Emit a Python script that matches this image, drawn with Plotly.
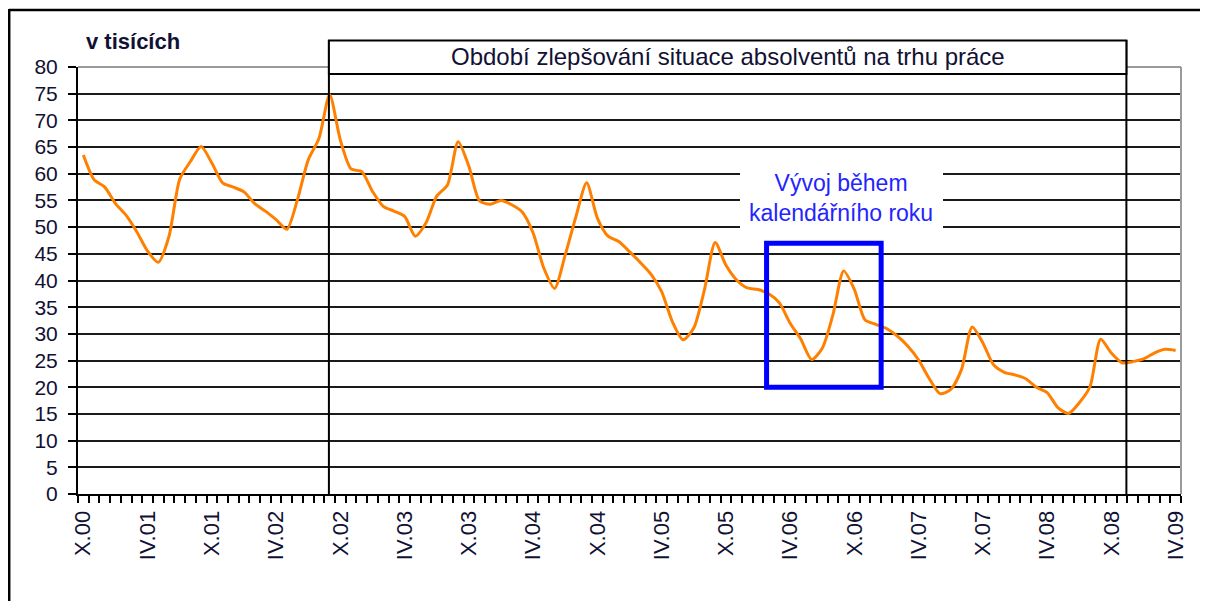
import plotly.graph_objects as go

# ---- data -------------------------------------------------------------
tick_labels = ["X.00", "IV.01", "X.01", "IV.02", "X.02", "IV.03", "X.03", "IV.04",
               "X.04", "IV.05", "X.05", "IV.06", "X.06", "IV.07", "X.07", "IV.08",
               "X.08", "IV.09"]
# monthly values X.2000 .. IV.2009 (thousands)
values = [63.5, 58.9, 57.5, 54.4, 52.2, 49.1, 45.5, 43.4, 48.3, 59.0,
          62.3, 65.1, 62.0, 58.3, 57.5, 56.6, 54.4, 53.0, 51.4, 49.6,
          55.2, 62.6, 66.6, 74.8, 66.3, 60.9, 60.4, 56.7, 53.9, 53.0,
          52.0, 48.3, 50.8, 55.8, 57.9, 66.0, 61.4, 54.9, 54.3, 55.0,
          54.2, 52.8, 48.9, 42.3, 38.5, 44.8, 52.0, 58.3, 51.7, 48.3,
          47.3, 45.4, 43.4, 41.2, 37.9, 32.3, 28.9, 31.1, 38.3, 47.1,
          42.9, 40.1, 38.6, 38.3, 37.5, 35.8, 32.0, 29.0, 25.2, 27.3,
          33.6, 41.8, 38.3, 32.6, 31.8, 31.0, 29.6, 27.7, 25.1, 21.6,
          18.8, 19.6, 23.3, 31.3, 28.3, 24.2, 22.8, 22.3, 21.6, 20.0,
          19.0, 16.2, 15.1, 17.1, 20.1, 29.0, 26.4, 24.6, 24.8, 25.3,
          26.4, 27.1, 26.9]
months = list(range(len(values)))
label_step = 6
y_ticks = list(range(0, 85, 5))

period_text = "Období zlepšování situace absolventů na trhu práce"
box_text = "Vývoj během<br>kalendářního roku"

# ---- layout helpers ---------------------------------------------------
OFF = 8                      # default page margin of the html body
W, H = 1208 - OFF, 601 - OFF
# plot area in page pixels (reference picture)
L, R, T, B = 78, 1181, 67, 494


def px(x):
    return (x - L) / (R - L)


def py(y):
    return (B - y) / (B - T)


FONT = "Liberation Sans, Arial, sans-serif"
TXT = "#111133"
n = len(values)

fig = go.Figure()
fig.add_trace(go.Scatter(
    x=months, y=values, mode="lines",
    line=dict(color="#FF8000", width=3, shape="spline", smoothing=0.7),
    hoverinfo="skip", showlegend=False,
))

period_start = 22.93   # vertical line through IX.02 peak
period_end = 97.4
box_x0, box_x1 = 63.8, 74.5
box_y0, box_y1 = 20, 47

shapes = []
# grey top / right plot border (top gridline at 80 is grey)
shapes.append(dict(type="line", xref="paper", yref="paper", x0=0, x1=1, y0=1, y1=1,
                   line=dict(color="#9a9a9a", width=2), layer="above"))
shapes.append(dict(type="line", xref="paper", yref="paper", x0=1, x1=1, y0=0, y1=1,
                   line=dict(color="#9a9a9a", width=2), layer="above"))
# vertical period lines
for xv in (period_start, period_end):
    shapes.append(dict(type="line", xref="x", yref="paper", x0=xv, x1=xv,
                       y0=0, y1=py(40), line=dict(color="black", width=2), layer="above"))
# period title box
shapes.append(dict(type="rect", xref="x", yref="paper", x0=period_start, x1=period_end,
                   y0=py(74), y1=py(40.5), fillcolor="white",
                   line=dict(color="black", width=2), layer="above"))
# white background behind blue text
shapes.append(dict(type="rect", xref="paper", yref="paper", x0=px(740), x1=px(943),
                   y0=py(236), y1=py(160), fillcolor="white",
                   line=dict(width=0), layer="above"))
# blue rectangle
shapes.append(dict(type="rect", xref="x", yref="y", x0=box_x0, x1=box_x1,
                   y0=box_y0, y1=box_y1, fillcolor="rgba(0,0,0,0)",
                   line=dict(color="#0000FF", width=5), layer="above"))
# outer frame (top and left edges)
shapes.append(dict(type="line", xref="paper", yref="paper", x0=px(9), x1=px(1215),
                   y0=py(10), y1=py(10), line=dict(color="black", width=2.5), layer="above"))
shapes.append(dict(type="line", xref="paper", yref="paper", x0=px(9.2), x1=px(9.2),
                   y0=py(9), y1=py(610), line=dict(color="black", width=2.5), layer="above"))

annotations = [
    dict(text="<b>v tisících</b>", xref="paper", yref="paper", x=px(84), y=py(42),
         xanchor="left", yanchor="middle", showarrow=False,
         font=dict(family=FONT, size=22, color=TXT)),
    dict(text=period_text, xref="x", yref="paper", x=(period_start + period_end) / 2,
         y=py(57), xanchor="center", yanchor="middle", showarrow=False,
         font=dict(family=FONT, size=24, color=TXT)),
    dict(text=box_text, xref="paper", yref="paper", x=px(841), y=py(198),
         xanchor="center", yanchor="middle", showarrow=False,
         font=dict(family=FONT, size=23, color="#2424FF")),
]

fig.update_layout(
    width=W, height=H,
    margin=dict(l=L - OFF, r=W - (R - OFF), t=T - OFF, b=H - (B - OFF), pad=0),
    paper_bgcolor="white", plot_bgcolor="white",
    shapes=shapes, annotations=annotations,
    showlegend=False,
    font=dict(family=FONT, color=TXT),
)
fig.update_xaxes(
    range=[-0.5, n - 0.5],
    tickmode="array",
    tickvals=months[::label_step],
    ticktext=tick_labels,
    tickangle=-90,
    ticks="",
    ticklabelstandoff=6,
    tickfont=dict(family=FONT, size=22, color=TXT),
    showgrid=False, zeroline=False,
    showline=True, linecolor="black", linewidth=2,
    minor=dict(tickmode="array", tickvals=[m - 0.5 for m in months] + [n - 0.5],
               ticks="outside", ticklen=7, tickwidth=2, tickcolor="black", showgrid=False),
    fixedrange=True,
)
fig.update_yaxes(
    range=[0, 80],
    tickmode="array", tickvals=y_ticks,
    ticks="outside", ticklen=8, tickwidth=2, tickcolor="black",
    ticklabelstandoff=6,
    tickfont=dict(family=FONT, size=21, color=TXT),
    showgrid=True, gridcolor="#1a1a1a", gridwidth=2,
    zeroline=False,
    showline=True, linecolor="black", linewidth=2,
    fixedrange=True,
)

fig.write_html("out.html")
